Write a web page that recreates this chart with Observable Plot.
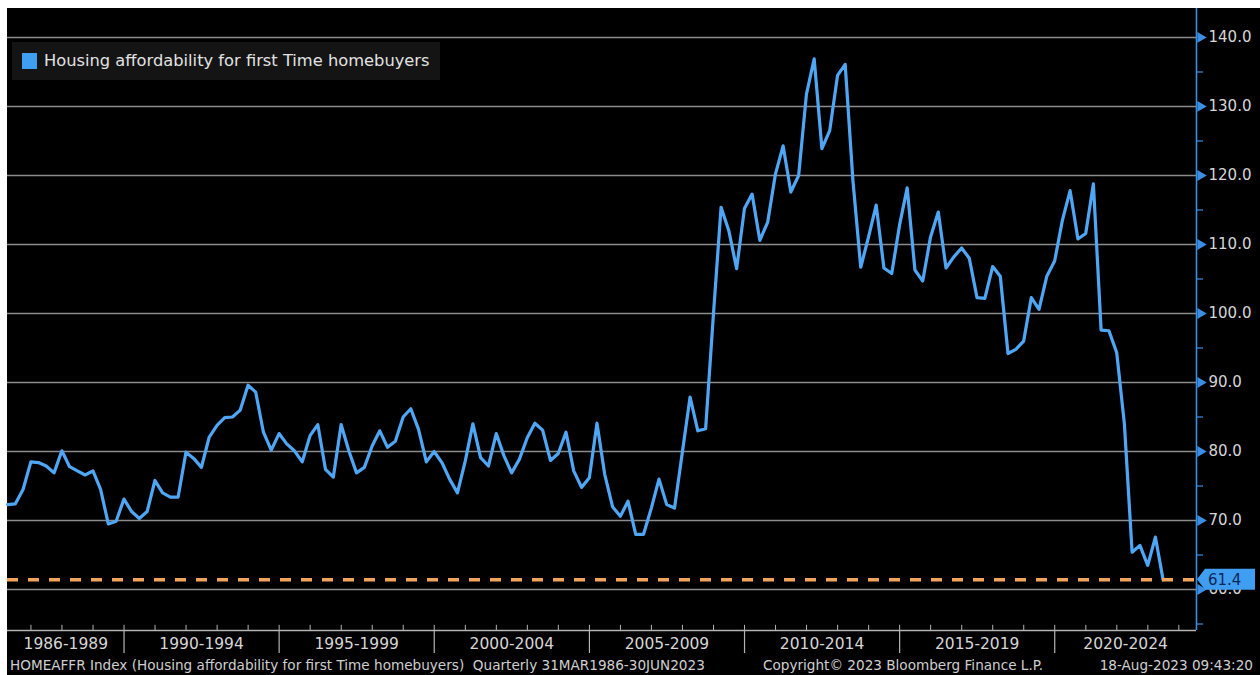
<!DOCTYPE html>
<html>
<head>
<meta charset="utf-8">
<script src="https://cdn.jsdelivr.net/npm/d3@7"></script>
<script src="https://cdn.jsdelivr.net/npm/@observablehq/plot@0.6"></script>
<style>
  html, body { margin: 0; padding: 0; background: #ffffff; width: 1260px; height: 675px; overflow: hidden; }
  #chart { position: absolute; left: 7px; top: 8px; width: 1253px; height: 667px; background: #000; font-family: "DejaVu Sans", sans-serif; }
  #chart svg { position: absolute; left: 0; top: 0; }
  #legend { position: absolute; left: 5px; top: 34px; width: 428px; height: 38px; background: #141414; color: #e2e2e2; font-size: 16.3px; line-height: 38px; white-space: nowrap; }
  #legend .sw { position: absolute; left: 10px; top: 11px; width: 15px; height: 16px; background: #3f9ef2; }
  #legend .lbl { position: absolute; left: 32px; top: 0; }
  .foot { position: absolute; top: 649px; font-size: 13.6px; color: #cfcfcf; white-space: pre; line-height: 16px; }
</style>
</head>
<body>
<div id="chart">
  <div id="legend"><span class="sw"></span><span class="lbl"></span></div>
  <div class="foot" id="f1" style="left:3px"></div>
  <div class="foot" id="f2" style="left:756px"></div>
  <div class="foot" id="f3" style="right:7px"></div>
</div>
<script>
// ---- data (quarterly, first value = 31 Mar 1986) ----
const seriesName = "Housing affordability for first Time homebuyers";
const firstYear = 1986;
const affordability = [
  72.3, 72.4, 74.5, 78.5,   // 1986
  78.4, 77.9, 76.9, 80.1,   // 1987
  77.8, 77.2, 76.6, 77.2,   // 1988
  74.5, 69.5, 69.9, 73.1,   // 1989
  71.3, 70.3, 71.3, 75.8,   // 1990
  74.0, 73.4, 73.4, 79.9,   // 1991
  79.0, 77.7, 82.1, 83.8,   // 1992
  84.9, 85.0, 86.0, 89.6,   // 1993
  88.6, 82.8, 80.2, 82.6,   // 1994
  81.1, 80.1, 78.5, 82.3,   // 1995
  83.9, 77.4, 76.3, 83.9,   // 1996
  80.1, 76.9, 77.7, 80.8,   // 1997
  83.0, 80.6, 81.5, 85.0,   // 1998
  86.2, 83.2, 78.5, 80.0,   // 1999
  78.4, 76.0, 74.0, 78.6,   // 2000
  84.0, 79.1, 77.9, 82.6,   // 2001
  79.4, 76.9, 78.9, 82.0,   // 2002
  84.1, 83.1, 78.7, 79.7,   // 2003
  82.8, 77.2, 74.8, 76.2,   // 2004
  84.1, 76.7, 72.0, 70.6,   // 2005
  72.8, 68.0, 68.0, 71.8,   // 2006
  76.0, 72.3, 71.8, 79.9,   // 2007
  87.9, 83.0, 83.3, 99.9,   // 2008
  115.4, 112.0, 106.5, 115.2, // 2009
  117.3, 110.6, 113.2, 120.2, // 2010
  124.3, 117.6, 120.0, 131.8, // 2011
  136.9, 123.9, 126.5, 134.5, // 2012
  136.1, 119.3, 106.7, 111.1, // 2013
  115.7, 106.6, 105.8, 112.8, // 2014
  118.2, 106.3, 104.7, 111.1, // 2015
  114.7, 106.6, 108.2, 109.5, // 2016
  108.0, 102.3, 102.2, 106.8, // 2017
  105.4, 94.2, 94.8, 96.0,    // 2018
  102.3, 100.6, 105.4, 107.6, // 2019
  113.5, 117.8, 110.8, 111.6, // 2020
  118.8, 97.6, 97.5, 94.3,    // 2021
  84.0, 65.4, 66.4, 63.5,     // 2022
  67.6, 61.4                  // 2023
];
const yTicks = [60, 70, 80, 90, 100, 110, 120, 130, 140];
const yMinorTicks = [55, 65, 75, 85, 95, 105, 115, 125, 135];
const periodLabels = ["1986-1989", "1990-1994", "1995-1999", "2000-2004", "2005-2009", "2010-2014", "2015-2019", "2020-2024"];
const periodStarts = [1986, 1990, 1995, 2000, 2005, 2010, 2015, 2020];
const periodEnds   = [1990, 1995, 2000, 2005, 2010, 2015, 2020, 2025];
const footerLeft = "HOMEAFFR Index (Housing affordability for first Time homebuyers)  Quarterly 31MAR1986-30JUN2023";
const footerMid = "Copyright\u00a9 2023 Bloomberg Finance L.P.";
const footerRight = "18-Aug-2023 09:43:20";

// ---- build table ----
const data = affordability.map((v, i) => {
  const yr = firstYear + Math.floor(i / 4), q = i % 4;
  return { date: new Date(Date.UTC(yr, 3 * (q + 1), 0)), value: v };
});
const last = data[data.length - 1];

const xStart = new Date(Date.UTC(1986, 2, 31));
const xEnd = new Date(Date.UTC(2024, 6, 27));
const yMin = 54.06, yMax = 144.2;

const clampDate = d => new Date(Math.min(Math.max(+d, +xStart), +xEnd));
const periods = periodLabels.map((label, i) => {
  const a = clampDate(new Date(Date.UTC(periodStarts[i], 0, 1)));
  const b = clampDate(new Date(Date.UTC(periodEnds[i], 0, 1)));
  return { label, mid: new Date((+a + +b) / 2) };
});
const separators = periodStarts.slice(1).map(y => new Date(Date.UTC(y, 0, 1)));
const yearTicks = d3.range(1987, 2025).map(y => new Date(Date.UTC(y, 0, 1)));

const BLUE_AXIS = "#3a8ee3";
const GRID = "#8c8c8c";
const TXT = "#d6d6d6";

const plot = Plot.plot({
  width: 1253,
  height: 648,
  marginLeft: 0,
  marginRight: 64,
  marginTop: 0,
  marginBottom: 26,
  style: { background: "transparent", fontFamily: "DejaVu Sans, sans-serif", overflow: "visible" },
  x: { type: "utc", domain: [xStart, xEnd], axis: null },
  y: { domain: [yMin, yMax], axis: null },
  marks: [
    Plot.ruleY(yTicks, { stroke: GRID, strokeWidth: 1.3 }),
    Plot.ruleY([yMin], { stroke: "#b4b4b4", strokeWidth: 1.5 }),
    Plot.ruleX(yearTicks, { y1: yMin, y2: yMin + 0.75, stroke: "#b4b4b4", strokeWidth: 1 }),
    Plot.axisX(separators, { anchor: "bottom", tickSize: 23, tickFormat: () => "", stroke: "#b4b4b4", strokeWidth: 1.2 }),
    Plot.text(periods, { x: "mid", text: "label", frameAnchor: "bottom", dy: 14, lineAnchor: "middle", fill: TXT, fontSize: 15.5 }),
    Plot.ruleX([xEnd], { stroke: BLUE_AXIS, strokeWidth: 1.6 }),
    Plot.axisY(yMinorTicks, { anchor: "right", tickSize: 6, tickFormat: () => "", stroke: BLUE_AXIS, strokeWidth: 1.2 }),
    Plot.dot(yTicks, { y: d => d, frameAnchor: "right", dx: 4, symbol: "triangle", rotate: 90, r: 4, fill: BLUE_AXIS, stroke: null }),
    Plot.text(yTicks, { y: d => d, text: d => d.toFixed(1), frameAnchor: "right", dx: 12, textAnchor: "start", fill: TXT, fontSize: 15 }),
    Plot.line(data, { x: "date", y: "value", stroke: "#4fa6f4", strokeWidth: 3.2, strokeLinejoin: "round" }),
    Plot.ruleY([last.value], { stroke: "#f2a35c", strokeWidth: 3.5, strokeDasharray: "11,10" })
  ]
});

const chart = document.getElementById("chart");
chart.insertBefore(plot, chart.firstChild);

// last value tag on the right axis
const svg = d3.select(plot);
const yy = plot.scale("y").apply(last.value);
const tipX = 1190, bodyX = 1198, rightX = 1248, h = 10.5;
svg.append("path")
  .attr("d", `M${tipX},${yy} L${bodyX},${yy - h} L${rightX},${yy - h} L${rightX},${yy + h} L${bodyX},${yy + h} Z`)
  .attr("fill", "#3f9ef2");
svg.append("text")
  .attr("x", 1201).attr("y", yy).attr("dy", "0.36em")
  .attr("text-anchor", "start")
  .attr("fill", "#0c2754").attr("font-size", 15).attr("font-family", "DejaVu Sans, sans-serif")
  .text(last.value.toFixed(1));

document.querySelector("#legend .lbl").textContent = seriesName;
document.getElementById("f1").textContent = footerLeft;
document.getElementById("f2").textContent = footerMid;
document.getElementById("f3").textContent = footerRight;
</script>
</body>
</html>
